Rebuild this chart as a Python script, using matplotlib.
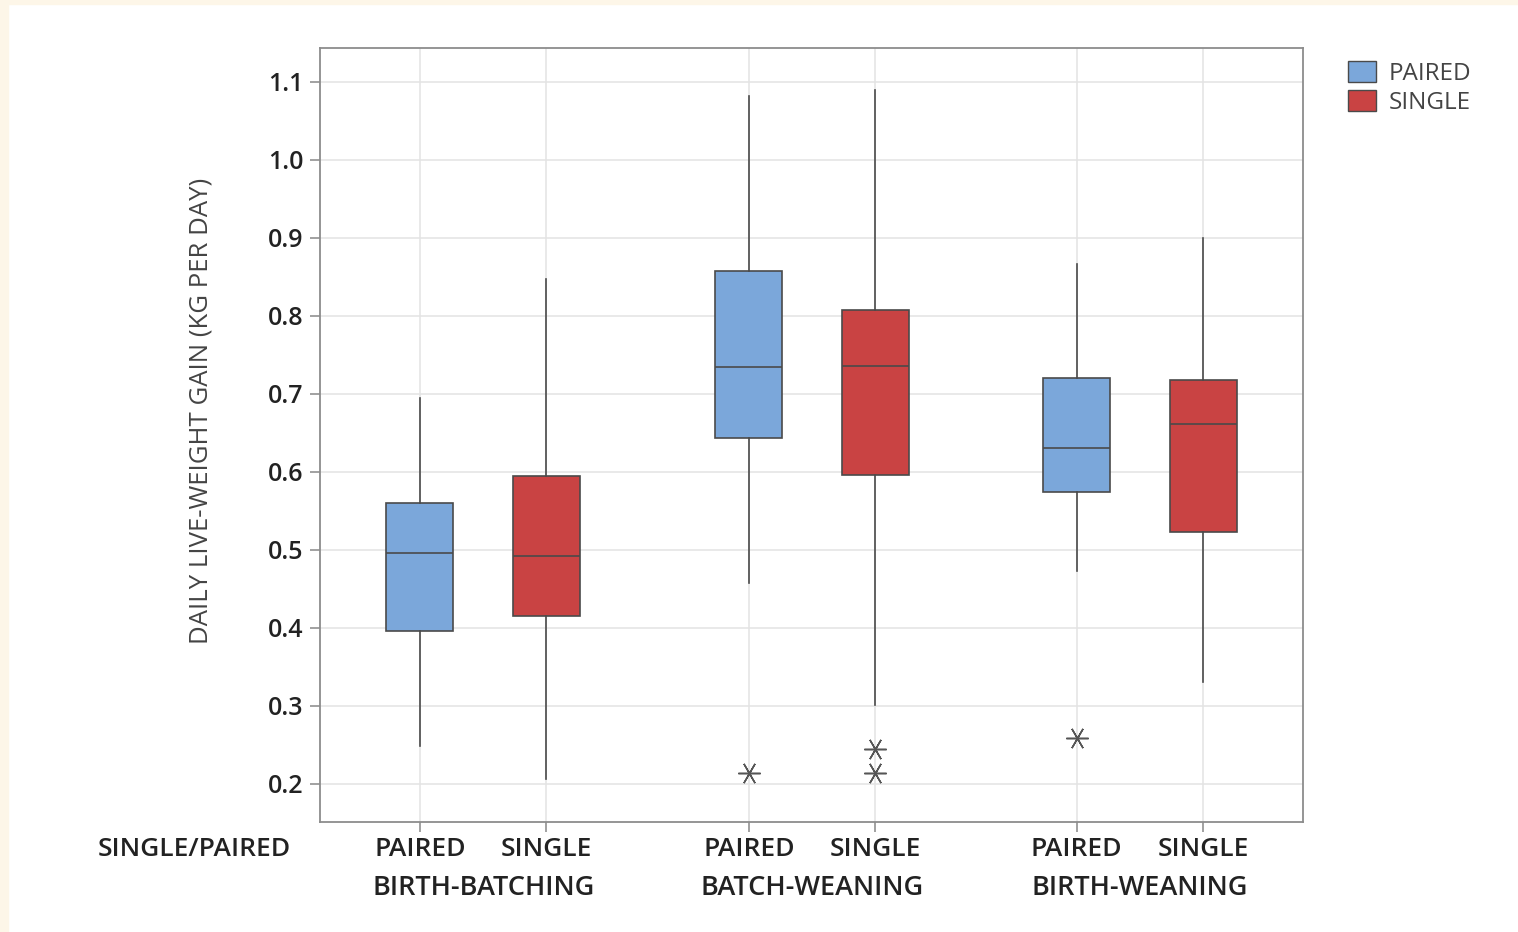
import matplotlib.pyplot as plt
from matplotlib.patches import Patch, Rectangle

# box statistics (kg per day)
groups = ['BIRTH-BATCHING', 'BATCH-WEANING', 'BIRTH-WEANING']
housing = ['PAIRED', 'SINGLE', 'PAIRED', 'SINGLE', 'PAIRED', 'SINGLE']
positions = [1.0, 2.0, 3.6, 4.6, 6.19, 7.19]
whislo = [0.248, 0.206, 0.458, 0.301, 0.473, 0.331]
q1 = [0.396, 0.415, 0.644, 0.596, 0.574, 0.523]
med = [0.496, 0.492, 0.735, 0.736, 0.631, 0.662]
q3 = [0.560, 0.595, 0.858, 0.808, 0.721, 0.718]
whishi = [0.695, 0.847, 1.082, 1.090, 0.867, 0.900]
fliers = [[], [], [0.214], [0.245, 0.214], [0.259], []]

BLUE = '#7ba7da'
RED = '#c94343'
FONT = 'Open Sans'

fig = plt.figure(figsize=(15.18, 9.32), dpi=100)
fig.patches.append(Rectangle((0, 0), 8 / 1518, 1, transform=fig.transFigure,
                             color='#fdf6e8', zorder=0))
fig.patches.append(Rectangle((0, 1 - 4 / 932), 1, 4 / 932, transform=fig.transFigure,
                             color='#fdf6e8', zorder=0))

ax = fig.add_axes([320 / 1518, 1 - 822 / 932, 983 / 1518, 774 / 932])

stats = []
for i in range(len(positions)):
    stats.append(dict(whislo=whislo[i], q1=q1[i], med=med[i], q3=q3[i],
                      whishi=whishi[i], fliers=fliers[i]))

bp = ax.bxp(stats, positions=positions, widths=0.53, patch_artist=True,
            showcaps=False,
            boxprops=dict(edgecolor='#4a4a4a', linewidth=1.2),
            medianprops=dict(color='#4a4a4a', linewidth=1.2),
            whiskerprops=dict(color='#4a4a4a', linewidth=1.2),
            flierprops=dict(marker=(6, 2, 90), markersize=16, markeredgecolor='#555555',
                            markerfacecolor='none', markeredgewidth=1.1, linestyle='none'))
for i, box in enumerate(bp['boxes']):
    box.set_facecolor(BLUE if housing[i] == 'PAIRED' else RED)
    box.set_zorder(3)
for line in bp['medians'] + bp['whiskers']:
    line.set_zorder(3)

ax.set_xlim(0.21, 7.98)
ax.set_ylim(0.151, 1.1436)
ax.set_yticks([0.2, 0.3, 0.4, 0.5, 0.6, 0.7, 0.8, 0.9, 1.0, 1.1])
ax.set_yticklabels(['0.2', '0.3', '0.4', '0.5', '0.6', '0.7', '0.8', '0.9', '1.0', '1.1'],
                   fontsize=18, fontfamily=FONT, fontweight='semibold', color='#222222')
ax.set_xticks(positions)
ax.set_xticklabels(housing, fontsize=19, fontfamily=FONT, fontweight='semibold',
                   color='#222222')
ax.tick_params(axis='both', length=7, color='#888888', width=1.1)
ax.tick_params(axis='x', pad=4)
ax.tick_params(axis='y', pad=5)

ax.grid(True, color='#e3e3e3', linewidth=1.1, zorder=0)
ax.set_axisbelow(True)
for sp in ax.spines.values():
    sp.set_color('#8c8c8c')
    sp.set_linewidth(1.3)

# group labels under the tick labels
for g, name in enumerate(groups):
    cx = (positions[2 * g] + positions[2 * g + 1]) / 2
    ax.text(cx, -0.085, name, transform=ax.get_xaxis_transform(), ha='center', va='center',
            fontsize=19.5, fontfamily=FONT, fontweight='semibold', color='#222222')
fig.text(194 / 1518, 1 - 849 / 932, 'SINGLE/PAIRED', ha='center', va='center',
         fontsize=19, fontfamily=FONT, fontweight='semibold', color='#222222')

fig.text(201 / 1518, 1 - 411 / 932, 'DAILY LIVE-WEIGHT GAIN (KG PER DAY)', rotation=90,
         ha='center', va='center', fontsize=18.5, fontfamily=FONT, color='#444444')

handles = [Patch(facecolor=BLUE, edgecolor='#4a4a4a', label='PAIRED'),
           Patch(facecolor=RED, edgecolor='#4a4a4a', label='SINGLE')]
leg = fig.legend(handles=handles, loc='upper left', bbox_to_anchor=(1338 / 1518, 1 - 51 / 932),
                 frameon=False, handlelength=1.15, handleheight=1.0, handletextpad=0.55,
                 labelspacing=0.15, borderaxespad=0,
                 prop=dict(family=FONT, size=17.5))
for t in leg.get_texts():
    t.set_color('#444444')

fig.savefig('out.png', dpi=100)
